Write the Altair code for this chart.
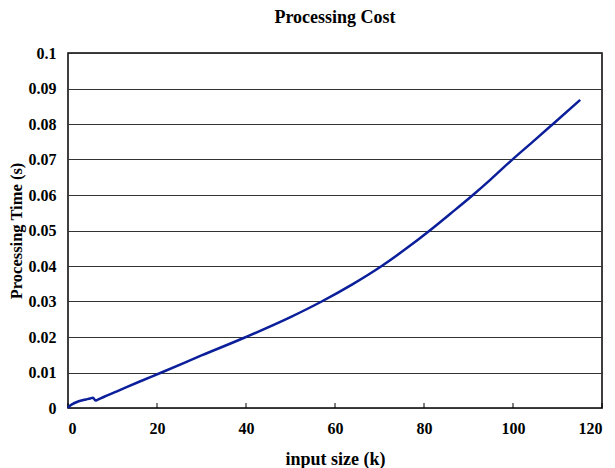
import altair as alt
import pandas as pd

input_size = [0, 0.5, 1, 2, 3, 4, 5, 5.6, 6.2, 6.6, 8, 11, 16, 21, 30, 40, 50, 57, 64, 70.5, 76, 81.3, 86, 91, 95, 99.6, 105, 108.8, 115.1]
proc_time = [0, 0.0007, 0.0011, 0.0017, 0.0021, 0.0024, 0.0027, 0.0029, 0.0021, 0.0023, 0.0031, 0.0047, 0.0074, 0.0100, 0.0148, 0.0200, 0.0256, 0.0300, 0.0349, 0.0400, 0.0449, 0.0500, 0.0548, 0.0600, 0.0644, 0.0697, 0.0756, 0.0798, 0.0868]

y_ticks = [0, 0.01, 0.02, 0.03, 0.04, 0.05, 0.06, 0.07, 0.08, 0.09, 0.1]
x_ticks = [0, 20, 40, 60, 80, 100, 120]

df = pd.DataFrame({"x": input_size, "y": proc_time})
tick_df = pd.DataFrame({"x": x_ticks})

font = "Liberation Serif"

xscale = alt.Scale(domain=[0, 120], nice=False)

line = alt.Chart(df).mark_line(color="#0c1f9a", strokeWidth=2.5, interpolate="monotone").encode(
    x=alt.X("x:Q", scale=xscale,
            axis=alt.Axis(values=x_ticks, title="input size (k)", grid=False,
                          ticks=False, domain=False, titleFontSize=18,
                          labelPadding=12, titlePadding=14)),
    y=alt.Y("y:Q", scale=alt.Scale(domain=[0, 0.1], nice=False),
            axis=alt.Axis(values=y_ticks, title="Processing Time (s)", format="~g",
                          grid=True, gridColor="#333333", gridWidth=1, titleFontSize=16.5,
                          ticks=False, domain=False, labelPadding=12, titlePadding=4)),
)

ticks = alt.Chart(tick_df).mark_rule(color="black", strokeWidth=1).encode(
    x=alt.X("x:Q", scale=xscale),
    y=alt.value(355),
    y2=alt.value(350),
)

chart = alt.layer(ticks, line).properties(
    width=534, height=355,
    title=alt.TitleParams("Processing Cost", font=font, fontSize=18, fontWeight="bold",
                          color="black", offset=18),
    padding={"left": 60, "top": 45, "right": 5, "bottom": 60},
    autosize=alt.AutoSizeParams(type="none"),
).configure_view(
    stroke="black", strokeWidth=1.5
).configure_axis(
    labelFont=font, labelFontSize=16, labelFontWeight="bold", labelColor="black",
    titleFont=font, titleFontWeight="bold", titleColor="black",
)

chart.save("out.html", embed_options={"renderer": "svg", "actions": False})
